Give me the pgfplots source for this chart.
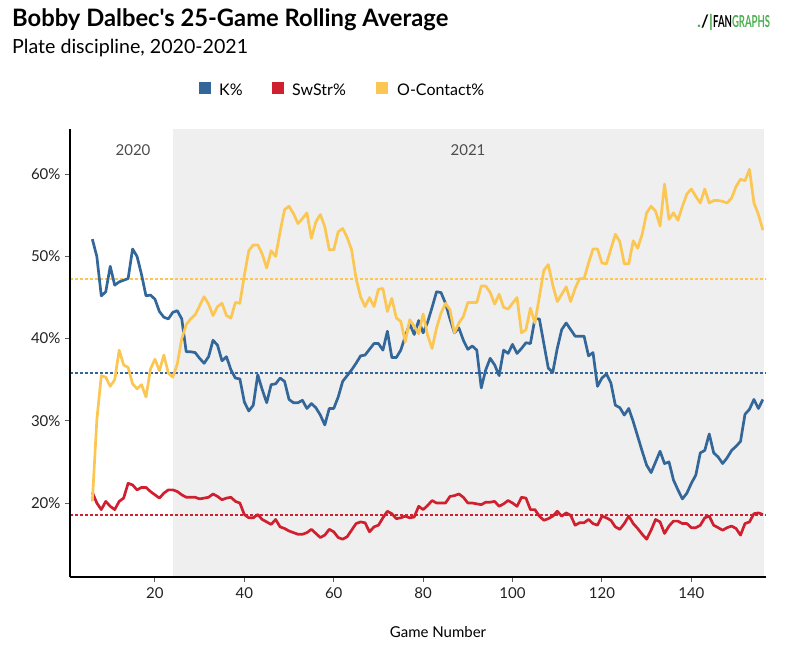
\documentclass[border=0pt]{standalone}
\usepackage{pgfplots}
\pgfplotsset{compat=1.18}
\usepackage{pgfplotstable}
\usepackage{fontspec}
\usepackage{graphicx}
\setmainfont{Lato}
\newfontfamily\plainlato{Lato}[Ligatures=TeXOff]
\definecolor{kblue}{HTML}{336699}
\definecolor{sred}{HTML}{D0202F}
\definecolor{oyel}{HTML}{FCC653}
\definecolor{bggray}{HTML}{EFEFEF}
\definecolor{fggreen}{HTML}{4CAF50}
\definecolor{ticklab}{HTML}{222222}

\pgfplotstableread{
g v
6 52.1
7 50.0
8 45.2
9 45.7
10 48.8
11 46.5
12 46.9
13 47.1
14 47.3
15 50.9
16 50.0
17 47.8
18 45.2
19 45.3
20 44.8
21 43.3
22 42.6
23 42.4
24 43.2
25 43.4
26 42.4
27 38.4
28 38.4
29 38.3
30 37.6
31 37.0
32 37.8
33 39.8
34 39.2
35 37.3
36 37.8
37 36.2
38 35.2
39 35.1
40 32.3
41 31.2
42 31.9
43 35.6
44 33.8
45 32.2
46 34.4
47 34.5
48 35.2
49 34.8
50 32.6
51 32.2
52 32.2
53 32.5
54 31.5
55 32.1
56 31.6
57 30.7
58 29.5
59 31.5
60 31.5
61 32.9
62 34.8
63 35.5
64 36.2
65 37.0
66 37.9
67 38.0
68 38.7
69 39.4
70 39.4
71 38.6
72 40.9
73 37.7
74 37.7
75 38.6
76 40.3
77 41.8
78 40.5
79 42.2
80 40.7
81 42.0
82 43.8
83 45.7
84 45.6
85 44.3
86 42.4
87 40.7
88 41.3
89 39.8
90 38.7
91 39.1
92 38.6
93 34.0
94 36.2
95 37.6
96 36.8
97 35.5
98 38.6
99 38.2
100 39.3
101 38.2
102 38.8
103 39.5
104 39.4
105 42.4
106 42.4
107 39.4
108 36.4
109 35.9
110 38.8
111 41.1
112 41.9
113 41.1
114 40.3
115 40.3
116 40.3
117 37.9
118 38.3
119 34.2
120 35.2
121 35.7
122 34.6
123 31.9
124 31.6
125 30.7
126 31.5
127 29.9
128 28.1
129 26.3
130 24.6
131 23.7
132 25.0
133 26.3
134 24.8
135 25.0
136 22.8
137 21.6
138 20.5
139 21.2
140 22.4
141 23.4
142 26.1
143 26.4
144 28.4
145 26.1
146 25.6
147 24.8
148 25.5
149 26.4
150 26.9
151 27.5
152 30.8
153 31.4
154 32.6
155 31.5
156 32.6
}\kdata

\pgfplotstableread{
g v
6 21.3
7 20.0
8 19.2
9 20.2
10 19.6
11 19.2
12 20.2
13 20.6
14 22.4
15 22.2
16 21.6
17 21.9
18 21.9
19 21.4
20 21.0
21 20.6
22 21.2
23 21.6
24 21.6
25 21.4
26 21.0
27 20.7
28 20.7
29 20.7
30 20.5
31 20.6
32 20.7
33 21.1
34 20.8
35 20.4
36 20.6
37 20.7
38 20.2
39 20.0
40 18.6
41 18.2
42 18.2
43 18.6
44 18.0
45 17.7
46 17.4
47 18.0
48 17.1
49 16.9
50 16.6
51 16.4
52 16.2
53 16.2
54 16.4
55 16.8
56 16.3
57 15.8
58 16.1
59 16.8
60 16.5
61 15.8
62 15.6
63 15.9
64 16.7
65 17.5
66 17.7
67 17.6
68 16.5
69 17.1
70 17.3
71 18.2
72 19.0
73 18.7
74 18.1
75 18.2
76 18.4
77 18.2
78 18.3
79 19.6
80 19.2
81 19.7
82 20.3
83 20.0
84 20.0
85 20.0
86 20.8
87 20.9
88 21.1
89 20.7
90 20.0
91 20.0
92 19.9
93 19.8
94 20.1
95 20.1
96 20.2
97 19.6
98 19.9
99 20.3
100 20.0
101 19.6
102 20.7
103 20.6
104 19.2
105 19.2
106 18.4
107 17.9
108 18.1
109 18.4
110 19.0
111 18.4
112 18.8
113 18.5
114 17.3
115 17.6
116 17.6
117 18.0
118 17.5
119 17.3
120 18.4
121 18.2
122 17.9
123 17.1
124 16.8
125 17.5
126 18.4
127 17.5
128 16.9
129 16.2
130 15.6
131 16.7
132 18.0
133 17.7
134 16.3
135 17.2
136 17.8
137 17.8
138 17.5
139 17.5
140 17.0
141 17.0
142 17.3
143 18.2
144 18.4
145 17.3
146 17.0
147 16.7
148 17.0
149 17.2
150 16.9
151 16.1
152 17.5
153 17.7
154 18.7
155 18.8
156 18.6
}\sdata

\pgfplotstableread{
g v
6 20.2
7 30.1
8 35.5
9 35.3
10 34.2
11 35.0
12 38.6
13 36.8
14 36.5
15 34.5
16 33.9
17 34.4
18 32.9
19 36.3
20 37.5
21 36.1
22 38.0
23 35.8
24 35.3
25 36.9
26 40.0
27 41.7
28 42.4
29 42.9
30 44.0
31 45.1
32 44.2
33 42.8
34 43.9
35 44.3
36 42.8
37 42.5
38 44.4
39 44.3
40 47.7
41 50.7
42 51.4
43 51.4
44 50.3
45 48.6
46 50.7
47 50.0
48 53.0
49 55.7
50 56.1
51 55.2
52 54.0
53 54.6
54 55.3
55 52.2
56 54.2
57 55.1
58 53.6
59 50.8
60 50.8
61 53.0
62 53.4
63 52.3
64 50.8
65 47.3
66 45.1
67 43.9
68 45.0
69 43.9
70 46.0
71 46.1
72 43.3
73 44.9
74 42.5
75 42.1
76 39.6
77 42.3
78 41.5
79 40.6
80 43.0
81 40.4
82 38.8
83 41.3
84 43.1
85 44.3
86 43.5
87 40.7
88 41.9
89 42.7
90 44.4
91 44.4
92 44.4
93 46.4
94 46.4
95 45.6
96 44.2
97 45.4
98 43.8
99 43.6
100 44.3
101 45.0
102 40.7
103 41.1
104 43.7
105 41.9
106 45.1
107 48.3
108 49.0
109 46.5
110 44.5
111 45.4
112 46.3
113 44.5
114 46.1
115 47.3
116 47.3
117 49.2
118 50.9
119 50.9
120 49.2
121 49.1
122 50.9
123 52.7
124 51.8
125 49.1
126 49.1
127 51.9
128 51.0
129 52.7
130 55.3
131 56.1
132 55.5
133 53.7
134 58.8
135 54.5
136 55.3
137 54.4
138 56.1
139 57.6
140 58.2
141 57.3
142 56.5
143 58.2
144 56.5
145 56.8
146 56.8
147 56.7
148 56.5
149 57.1
150 58.5
151 59.4
152 59.2
153 60.6
154 56.5
155 55.1
156 53.2
}\odata

\begin{document}
\begin{tikzpicture}[x=1pt,y=1pt]
\path[use as bounding box] (0,0) rectangle (808,-651);
\begin{axis}[
  at={(70pt,-577pt)}, anchor=south west,
  scale only axis, width=696pt, height=448pt,
  xmin=1, xmax=156.7, ymin=11, ymax=65.5,
  axis x line*=bottom, axis y line*=left,
  axis line style={-, black, line width=1.3pt},
  axis on top,
  xtick={20,40,60,80,100,120,140},
  xticklabels={20,40,60,80,100,120,140},
  ytick={20,30,40,50,60},
  yticklabels={20\%,30\%,40\%,50\%,60\%},
  tick align=outside, major tick length=5pt,
  tick style={line width=1pt, color=gray!75!black},
  ticklabel style={font=\fontsize{15}{15}\selectfont, text=ticklab},
  yticklabel style={xshift=-1pt},
  xticklabel style={yshift=-2pt},
  /pgf/number format/assume math mode=true,
  clip=false,
]
\fill[bggray] (axis cs:24,11) rectangle (axis cs:156.2,65.5);
\addplot[draw=oyel, line width=2pt, line cap=butt, dash pattern=on 2.5pt off 2.5pt] coordinates {(1,47.2) (156.7,47.2)};
\addplot[draw=kblue, line width=2pt, line cap=butt, dash pattern=on 2.5pt off 2.5pt] coordinates {(1,35.8) (156.7,35.8)};
\addplot[draw=sred, line width=2pt, line cap=butt, dash pattern=on 2.5pt off 2.5pt] coordinates {(1,18.5) (156.7,18.5)};
\addplot[draw=kblue, line width=2.7pt, line join=round] table[x=g,y=v] {\kdata};
\addplot[draw=sred, line width=2.7pt, line join=round] table[x=g,y=v] {\sdata};
\addplot[draw=oyel, line width=2.7pt, line join=round] table[x=g,y=v] {\odata};
\end{axis}
% titles
\node[anchor=base west, inner sep=0pt] at (12,-26) {\resizebox{436pt}{\height}{\plainlato\fontsize{24}{24}\selectfont\bfseries Bobby Dalbec's 25-Game Rolling Average}};
\node[anchor=base west, inner sep=0pt] at (12,-53) {\resizebox{236pt}{\height}{\fontsize{19.5}{19.5}\selectfont Plate discipline, 2020-2021}};
% logo
\node[anchor=base west, inner sep=0pt] at (697,-27) {\resizebox{16pt}{\height}{\fontsize{17}{17}\selectfont\bfseries\textcolor{fggreen}{.}\textcolor{black}{/}\textcolor{fggreen}{|}}};
\node[anchor=base west, inner sep=0pt] at (713,-27) {\resizebox{57pt}{\height}{\fontsize{16.5}{16.5}\selectfont\bfseries\textcolor{black}{FAN}\textcolor{fggreen}{GRAPHS}}};
% legend
\fill[kblue] (199,-82) rectangle (211,-94);
\node[anchor=base west, inner sep=0pt] at (219,-95) {\fontsize{16}{16}\selectfont K\%};
\fill[sred] (272,-82) rectangle (284,-94);
\node[anchor=base west, inner sep=0pt] at (292,-95) {\fontsize{16}{16}\selectfont SwStr\%};
\fill[oyel] (376,-82) rectangle (388,-94);
\node[anchor=base west, inner sep=0pt] at (397,-95) {\fontsize{16}{16}\selectfont O-Contact\%};
% season labels
\node[anchor=base, inner sep=0pt, text=gray!60!black] at (133,-155) {\fontsize{15}{15}\selectfont 2020};
\node[anchor=base, inner sep=0pt, text=gray!60!black] at (468,-155) {\fontsize{15}{15}\selectfont 2021};
% x label
\node[anchor=base, inner sep=0pt] at (438,-637) {\fontsize{15}{15}\selectfont Game Number};
\end{tikzpicture}
\end{document}
